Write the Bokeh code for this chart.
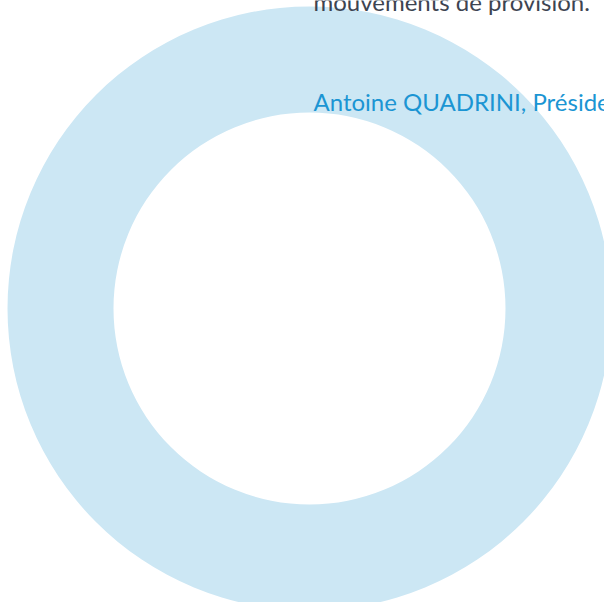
import numpy as np
from bokeh.plotting import figure
from bokeh.models import Range1d, ColumnDataSource
from bokeh.core.properties import value
from bokeh.embed import file_html
from bokeh.resources import INLINE

# data
categories = ["Provisions"]
values = [100]
colors = ["#cce7f4"]
texts = ["mouvements de provision.", "Antoine QUADRINI, Président"]
text_colors = ["#3d4451", "#1b95d3"]

W, H = 604, 602
p = figure(width=W, height=H, output_backend="svg", toolbar_location=None,
           x_range=Range1d(0, W), y_range=Range1d(H, 0), min_border=0)
p.axis.visible = False
p.grid.visible = False
p.outline_line_color = None
p.background_fill_color = None
p.border_fill_color = None

vals = np.array(values, dtype=float)
ends = np.cumsum(vals) / vals.sum() * 2 * np.pi
starts = np.concatenate([[0], ends[:-1]])
src = ColumnDataSource(dict(cat=categories, start=starts, end=ends, color=colors,
                            x=[309] * len(values), y=[308] * len(values)))
p.annular_wedge(x="x", y="y", inner_radius=196, outer_radius=302,
                start_angle="start", end_angle="end", color="color",
                inner_radius_units="screen", outer_radius_units="screen",
                line_color=None, source=src)

tsrc = ColumnDataSource(dict(x=[313, 313], y=[1, 101], text=texts, color=text_colors))
p.text(x="x", y="y", text="text", text_color="color", source=tsrc,
       text_font=value("Lato"), text_font_size="24px", text_baseline="alphabetic")

open("out.html", "w").write(file_html(p, INLINE))
